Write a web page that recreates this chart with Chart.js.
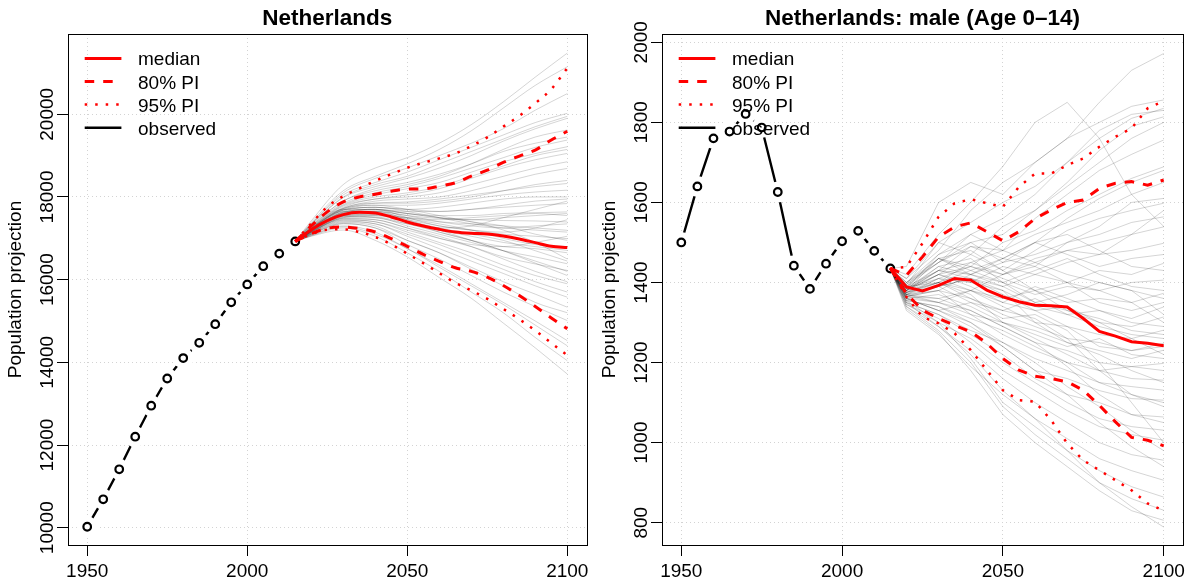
<!DOCTYPE html>
<html>
<head>
<meta charset="utf-8">
<title>Netherlands population projection</title>
<script src="https://cdn.jsdelivr.net/npm/chart.js@4.4.1/dist/chart.umd.min.js"></script>
<style>
    html, body { margin: 0; padding: 0; background: #fff; }
    #wrap { position: relative; width: 1194px; height: 583px; }
    canvas { position: absolute; top: 0; }
    #totalChart { left: 0; }
    #maleChart { left: 597px; }
</style>
</head>
<body>
<div id="wrap">
    <canvas id="totalChart" width="597" height="583"></canvas>
    <canvas id="maleChart" width="597" height="583"></canvas>
</div>
<script>
const obsYears = [1950, 1955, 1960, 1965, 1970, 1975, 1980, 1985, 1990, 1995, 2000, 2005, 2010, 2015];
const projYears = [2015, 2020, 2025, 2030, 2035, 2040, 2045, 2050, 2055, 2060, 2065, 2070, 2075, 2080, 2085, 2090, 2095, 2100];
const trajYears = [2015, 2020, 2030, 2040, 2050, 2060, 2070, 2080, 2090, 2100];
const xTicks = [1950, 2000, 2050, 2100];
const legendLabels = ['median', '80% PI', '95% PI', 'observed'];

// Netherlands, total
const totalTicks = [10000, 12000, 14000, 16000, 18000, 20000];
const totalObserved = [10024, 10687, 11413, 12201, 12951, 13609, 14103, 14473, 14923, 15453, 15885, 16326, 16630, 16925];
const totalMedian = [16925, 17210, 17428, 17574, 17630, 17614, 17517, 17396, 17299, 17218, 17153, 17121, 17105, 17056, 16984, 16895, 16806, 16780];
const totalUpper80 = [16925, 17299, 17639, 17881, 18003, 18067, 18140, 18189, 18197, 18261, 18342, 18504, 18650, 18835, 18989, 19135, 19377, 19590];
const totalLower80 = [16925, 17113, 17242, 17275, 17234, 17153, 16992, 16806, 16612, 16442, 16288, 16199, 16062, 15860, 15617, 15350, 15075, 14815];
const totalUpper95 = [16925, 17356, 17760, 18019, 18205, 18391, 18552, 18706, 18827, 18933, 19054, 19232, 19442, 19701, 19960, 20267, 20607, 21120];
const totalLower95 = [16925, 17097, 17210, 17218, 17153, 17032, 16854, 16628, 16401, 16159, 15924, 15738, 15536, 15293, 15043, 14768, 14468, 14170];
const totalTrajectories = [
    [16925, 17420, 18300, 18700, 18950, 19300, 19750, 20300, 20900, 21480],
    [16925, 17380, 18150, 18500, 18800, 19150, 19600, 20150, 20700, 21150],
    [16925, 17350, 18100, 18450, 18700, 19000, 19300, 19650, 20100, 20500],
    [16925, 17350, 18050, 18350, 18600, 18900, 19200, 19500, 19800, 20024],
    [16925, 17320, 18000, 18300, 18500, 18800, 19100, 19400, 19700, 19950],
    [16925, 17330, 17980, 18250, 18450, 18700, 19000, 19350, 19650, 19903],
    [16925, 17300, 17900, 18150, 18300, 18500, 18800, 19150, 19450, 19620],
    [16925, 17290, 17900, 18200, 18350, 18550, 18800, 19100, 19300, 19450],
    [16925, 17280, 17850, 18100, 18250, 18450, 18700, 18950, 19200, 19377],
    [16925, 17270, 17820, 18050, 18200, 18350, 18600, 18850, 19050, 19216],
    [16925, 17260, 17800, 18000, 18100, 18250, 18500, 18750, 19000, 19150],
    [16925, 17250, 17780, 17950, 18050, 18200, 18450, 18700, 18900, 19054],
    [16925, 17240, 17750, 17950, 18000, 18100, 18300, 18500, 18700, 18852],
    [16925, 17230, 17720, 17900, 17950, 18000, 18150, 18350, 18550, 18690],
    [16925, 17230, 17730, 17850, 17850, 17900, 18000, 18150, 18300, 18400],
    [16925, 17220, 17700, 17850, 17880, 17950, 18050, 18150, 18250, 18326],
    [16925, 17210, 17680, 17800, 17800, 17850, 17950, 18050, 18120, 18164],
    [16925, 17200, 17650, 17750, 17700, 17750, 17850, 17950, 18000, 18002],
    [16925, 17210, 17680, 17750, 17700, 17650, 17700, 17800, 17900, 17950],
    [16925, 17200, 17620, 17700, 17650, 17650, 17700, 17750, 17800, 17841],
    [16925, 17190, 17600, 17680, 17600, 17550, 17550, 17600, 17620, 17638],
    [16925, 17200, 17640, 17700, 17600, 17500, 17450, 17500, 17550, 17600],
    [16925, 17180, 17580, 17650, 17550, 17480, 17450, 17430, 17420, 17396],
    [16925, 17190, 17610, 17650, 17550, 17400, 17300, 17250, 17300, 17350],
    [16925, 17170, 17560, 17620, 17500, 17400, 17350, 17300, 17250, 17194],
    [16925, 17240, 17690, 17750, 17650, 17500, 17350, 17250, 17200, 17150],
    [16925, 17160, 17540, 17580, 17450, 17300, 17200, 17100, 17050, 16992],
    [16925, 17180, 17580, 17600, 17480, 17350, 17200, 17000, 16850, 16800],
    [16925, 17150, 17520, 17550, 17400, 17200, 17050, 16900, 16800, 16709],
    [16925, 17170, 17560, 17580, 17420, 17250, 17100, 16950, 16700, 16450],
    [16925, 17140, 17500, 17500, 17300, 17100, 16900, 16700, 16550, 16385],
    [16925, 17130, 17470, 17450, 17250, 17000, 16800, 16550, 16380, 16223],
    [16925, 17160, 17530, 17520, 17350, 17150, 16950, 16700, 16450, 16200],
    [16925, 17140, 17480, 17450, 17250, 17050, 16800, 16500, 16200, 15950],
    [16925, 17120, 17440, 17400, 17150, 16900, 16650, 16350, 16100, 15900],
    [16925, 17120, 17420, 17350, 17100, 16850, 16550, 16250, 15950, 15700],
    [16925, 17110, 17400, 17350, 17050, 16750, 16450, 16150, 15850, 15576],
    [16925, 17100, 17380, 17300, 16950, 16650, 16300, 15950, 15650, 15334],
    [16925, 17100, 17360, 17250, 16950, 16650, 16250, 15850, 15450, 15200],
    [16925, 17090, 17350, 17250, 16850, 16500, 16100, 15700, 15350, 15010],
    [16925, 17080, 17300, 17150, 16750, 16350, 15900, 15450, 15000, 14525],
    [16925, 17070, 17280, 17100, 16750, 16300, 15850, 15400, 14900, 14400],
    [16925, 17060, 17250, 17050, 16650, 16200, 15700, 15200, 14600, 14040],
    [16925, 17050, 17200, 16950, 16550, 16050, 15550, 14950, 14350, 13717],
    [16925, 17250, 17700, 17700, 17500, 17300, 17200, 17150, 17250, 17450],
    [16925, 17200, 17550, 17500, 17350, 17250, 17300, 17500, 17700, 17900],
    [16925, 17180, 17600, 17650, 17450, 17200, 16950, 16700, 16400, 16100],
    [16925, 17220, 17650, 17600, 17400, 17150, 16950, 16800, 16750, 16650],
    [16925, 17160, 17500, 17550, 17500, 17450, 17500, 17550, 17600, 17550],
    [16925, 17240, 17720, 17800, 17700, 17550, 17400, 17300, 17100, 16950],
    [16925, 17190, 17630, 17700, 17600, 17500, 17400, 17200, 16900, 16500],
    [16925, 17150, 17450, 17400, 17200, 17000, 16850, 16800, 16900, 17050]
];

// Netherlands, male age 0-14
const maleTicks = [800, 1000, 1200, 1400, 1600, 1800, 2000];
const maleObserved = [1500, 1640, 1760, 1777, 1821, 1787, 1626, 1442, 1384, 1447, 1503, 1529, 1479, 1435];
const maleMedian = [1435, 1389, 1379, 1393, 1410, 1406, 1381, 1364, 1352, 1343, 1342, 1339, 1310, 1278, 1266, 1252, 1248, 1242];
const maleUpper80 = [1435, 1418, 1464, 1514, 1539, 1549, 1527, 1504, 1527, 1560, 1581, 1600, 1606, 1635, 1648, 1652, 1643, 1656];
const maleLower80 = [1435, 1372, 1331, 1310, 1293, 1277, 1248, 1210, 1181, 1166, 1160, 1152, 1131, 1093, 1052, 1013, 1006, 992];
const maleUpper95 = [1435, 1439, 1498, 1564, 1598, 1608, 1598, 1589, 1639, 1672, 1672, 1693, 1710, 1739, 1764, 1785, 1835, 1853];
const maleLower95 = [1435, 1364, 1314, 1298, 1273, 1231, 1181, 1131, 1106, 1102, 1056, 998, 956, 931, 906, 881, 848, 830];
const maleTrajectories = [
    [1435, 1440, 1600, 1650, 1620, 1700, 1760, 1850, 1930, 1972],
    [1435, 1420, 1520, 1600, 1690, 1800, 1850, 1760, 1620, 1540],
    [1435, 1410, 1480, 1580, 1650, 1700, 1760, 1800, 1840, 1856],
    [1435, 1410, 1500, 1550, 1600, 1640, 1700, 1780, 1820, 1830],
    [1435, 1400, 1450, 1520, 1560, 1620, 1700, 1760, 1810, 1835],
    [1435, 1395, 1500, 1470, 1540, 1580, 1650, 1730, 1790, 1814],
    [1435, 1400, 1470, 1500, 1520, 1580, 1640, 1700, 1760, 1800],
    [1435, 1390, 1430, 1490, 1480, 1560, 1620, 1680, 1720, 1756],
    [1435, 1400, 1460, 1440, 1500, 1530, 1580, 1620, 1660, 1689],
    [1435, 1395, 1450, 1490, 1460, 1500, 1560, 1610, 1650, 1680],
    [1435, 1385, 1430, 1450, 1480, 1520, 1550, 1580, 1620, 1650],
    [1435, 1390, 1450, 1500, 1450, 1470, 1500, 1540, 1600, 1610],
    [1435, 1380, 1420, 1470, 1430, 1480, 1530, 1560, 1580, 1598],
    [1435, 1380, 1420, 1440, 1420, 1450, 1480, 1470, 1520, 1580],
    [1435, 1385, 1440, 1420, 1460, 1440, 1500, 1520, 1550, 1564],
    [1435, 1390, 1400, 1450, 1420, 1460, 1480, 1500, 1520, 1539],
    [1435, 1375, 1410, 1400, 1440, 1420, 1450, 1470, 1480, 1498],
    [1435, 1375, 1400, 1430, 1460, 1500, 1470, 1440, 1460, 1470],
    [1435, 1380, 1430, 1410, 1390, 1420, 1400, 1430, 1420, 1448],
    [1435, 1380, 1460, 1420, 1450, 1500, 1520, 1480, 1440, 1430],
    [1435, 1370, 1380, 1420, 1400, 1370, 1390, 1380, 1400, 1406],
    [1435, 1395, 1460, 1430, 1400, 1430, 1460, 1420, 1390, 1380],
    [1435, 1380, 1400, 1380, 1360, 1380, 1350, 1360, 1350, 1373],
    [1435, 1380, 1440, 1460, 1400, 1350, 1370, 1400, 1380, 1360],
    [1435, 1370, 1410, 1440, 1410, 1380, 1400, 1350, 1330, 1350],
    [1435, 1365, 1390, 1410, 1380, 1340, 1320, 1330, 1310, 1339],
    [1435, 1385, 1420, 1390, 1350, 1330, 1340, 1300, 1290, 1314],
    [1435, 1385, 1470, 1520, 1480, 1450, 1420, 1400, 1380, 1320],
    [1435, 1365, 1350, 1380, 1420, 1440, 1400, 1380, 1350, 1300],
    [1435, 1385, 1410, 1380, 1350, 1390, 1360, 1330, 1300, 1290],
    [1435, 1370, 1360, 1380, 1340, 1300, 1290, 1270, 1260, 1281],
    [1435, 1380, 1430, 1420, 1390, 1350, 1330, 1310, 1280, 1270],
    [1435, 1365, 1380, 1360, 1330, 1360, 1320, 1290, 1270, 1260],
    [1435, 1375, 1400, 1360, 1320, 1290, 1260, 1250, 1230, 1248],
    [1435, 1375, 1390, 1410, 1370, 1330, 1290, 1240, 1230, 1240],
    [1435, 1360, 1370, 1340, 1300, 1280, 1250, 1230, 1210, 1231],
    [1435, 1390, 1460, 1480, 1430, 1380, 1330, 1300, 1260, 1220],
    [1435, 1360, 1350, 1320, 1300, 1270, 1240, 1260, 1220, 1210],
    [1435, 1370, 1350, 1330, 1290, 1250, 1230, 1200, 1190, 1198],
    [1435, 1370, 1400, 1370, 1300, 1260, 1220, 1180, 1190, 1180],
    [1435, 1365, 1380, 1320, 1270, 1230, 1200, 1180, 1160, 1156],
    [1435, 1375, 1420, 1400, 1380, 1300, 1250, 1220, 1180, 1150],
    [1435, 1355, 1340, 1300, 1250, 1210, 1180, 1150, 1140, 1131],
    [1435, 1360, 1330, 1290, 1240, 1180, 1160, 1130, 1110, 1106],
    [1435, 1360, 1330, 1350, 1330, 1310, 1260, 1180, 1120, 1100],
    [1435, 1355, 1340, 1310, 1280, 1240, 1200, 1150, 1120, 1090],
    [1435, 1350, 1320, 1270, 1220, 1160, 1120, 1100, 1070, 1064],
    [1435, 1365, 1360, 1330, 1290, 1250, 1190, 1120, 1070, 1050],
    [1435, 1355, 1300, 1260, 1200, 1150, 1100, 1060, 1040, 1031],
    [1435, 1345, 1310, 1250, 1180, 1130, 1080, 1040, 1020, 1006],
    [1435, 1370, 1390, 1350, 1310, 1320, 1280, 1200, 1100, 1000],
    [1435, 1350, 1320, 1280, 1250, 1200, 1140, 1090, 1030, 980],
    [1435, 1350, 1290, 1230, 1160, 1100, 1050, 1000, 970, 956],
    [1435, 1360, 1330, 1300, 1240, 1180, 1120, 1050, 990, 940],
    [1435, 1340, 1290, 1220, 1130, 1060, 1010, 960, 930, 906],
    [1435, 1345, 1300, 1210, 1100, 1040, 980, 930, 890, 864],
    [1435, 1340, 1280, 1200, 1090, 1020, 960, 900, 860, 831],
    [1435, 1335, 1275, 1180, 1070, 1000, 940, 880, 830, 806],
    [1435, 1330, 1270, 1190, 1120, 1060, 980, 900, 840, 789]
];

const FONT = '"Liberation Sans", Arial, Helvetica, sans-serif';
const RED = '#ff0000';
const DASH = [9.5, 9];
const DOT = [2.5, 8];
const legendStyles = [
    { color: RED, width: 3, dash: [] },
    { color: RED, width: 3, dash: DASH },
    { color: RED, width: 2.5, dash: DOT },
    { color: '#000', width: 2.6, dash: [] }
];

function series(xs, ys) {
    return xs.map((x, i) => ({ x: x, y: ys[i] }));
}

// R style frame, tick labels, titles and legend
const rDecor = {
    id: 'rDecor',
    afterDraw(chart, args, opts) {
        const ctx = chart.ctx;
        const a = chart.chartArea;
        const xs = chart.scales.x;
        const ys = chart.scales.y;
        ctx.save();
        ctx.setLineDash([]);
        ctx.strokeStyle = '#000';
        ctx.lineWidth = 1;
        ctx.strokeRect(Math.round(a.left) + 0.5, Math.round(a.top) + 0.5,
            Math.round(a.right - a.left), Math.round(a.bottom - a.top));

        ctx.fillStyle = '#000';
        ctx.font = '19px ' + FONT;
        ctx.textAlign = 'center';
        ctx.textBaseline = 'alphabetic';
        xs.ticks.forEach(t => ctx.fillText(String(t.value), xs.getPixelForValue(t.value), a.bottom + 32.3));
        ys.ticks.forEach(t => {
            ctx.save();
            ctx.translate(a.left - 15, ys.getPixelForValue(t.value));
            ctx.rotate(-Math.PI / 2);
            ctx.fillText(String(t.value), 0, 0);
            ctx.restore();
        });
        ctx.save();
        ctx.translate(a.left - 47.3, (a.top + a.bottom) / 2);
        ctx.rotate(-Math.PI / 2);
        ctx.fillText(opts.yTitle, 0, 0);
        ctx.restore();

        ctx.font = 'bold 22.5px ' + FONT;
        ctx.fillText(opts.title, (a.left + a.right) / 2, 25);

        ctx.font = '19px ' + FONT;
        ctx.textAlign = 'left';
        legendLabels.forEach((label, i) => {
            const st = legendStyles[i];
            const y = a.top + 24.4 + i * 23.1;
            ctx.strokeStyle = st.color;
            ctx.lineWidth = st.width;
            ctx.lineCap = 'butt';
            ctx.setLineDash(st.dash);
            ctx.beginPath();
            ctx.moveTo(a.left + 16.7, y);
            ctx.lineTo(a.left + 53.4, y);
            ctx.stroke();
            ctx.setLineDash([]);
            ctx.fillText(label, a.left + 70, y + 7);
        });
        ctx.restore();
    }
};

function makeChart(canvasId, cfg) {
    const curve = cfg.smooth ? 'monotone' : 'default';
    const datasets = [];
    datasets.push({ data: series(obsYears, cfg.observed), borderColor: '#000', borderWidth: 2.4,
        pointRadius: 0, tension: 0, order: 4 });
    // white halo so the line stops short of each circle, like R type="b"
    datasets.push({ data: series(obsYears, cfg.observed), showLine: false, pointRadius: 10.5,
        pointBorderWidth: 0, pointBorderColor: '#fff', pointBackgroundColor: '#fff', order: 3 });
    datasets.push({ data: series(obsYears, cfg.observed), showLine: false, pointRadius: 3.8,
        pointBorderWidth: 2.2, pointBorderColor: '#000', pointBackgroundColor: 'rgba(0,0,0,0)', order: 2 });
    cfg.trajectories.forEach(tr => {
        datasets.push({ data: series(trajYears, tr), borderColor: 'rgba(0,0,0,0.17)', borderWidth: 1,
            pointRadius: 0, tension: cfg.smooth ? 0.4 : 0, cubicInterpolationMode: curve, order: 1 });
    });
    const red = [
        [cfg.upper95, DOT, 2.5], [cfg.lower95, DOT, 2.5],
        [cfg.upper80, DASH, 3], [cfg.lower80, DASH, 3],
        [cfg.median, [], 3]
    ];
    red.forEach(([vals, dash, w]) => {
        datasets.push({ data: series(projYears, vals), borderColor: RED, borderWidth: w, borderDash: dash,
            borderCapStyle: 'butt', pointRadius: 0, tension: cfg.smooth ? 0.4 : 0,
            cubicInterpolationMode: curve, order: 0 });
    });

    const gridCommon = { color: '#d3d3d3', lineWidth: 1, tickColor: '#000', tickLength: 11,
        tickWidth: 1, tickBorderDash: [] };

    return new Chart(document.getElementById(canvasId), {
        type: 'line',
        data: { datasets: datasets },
        plugins: [rDecor],
        options: {
            responsive: false,
            animation: false,
            events: [],
            layout: { padding: { left: 0, top: 34, right: cfg.padRight, bottom: 0 } },
            plugins: {
                legend: { display: false },
                tooltip: { enabled: false },
                rDecor: { title: cfg.title, yTitle: 'Population projection' }
            },
            scales: {
                x: {
                    type: 'linear',
                    position: 'bottom',
                    min: 1944,
                    max: 2106,
                    afterBuildTicks: s => { s.ticks = xTicks.map(v => ({ value: v })); },
                    afterFit: s => { s.height = 38; },
                    ticks: { display: false },
                    grid: gridCommon,
                    border: { display: false, dash: [1, 3] }
                },
                y: {
                    type: 'linear',
                    position: 'left',
                    min: cfg.yMin,
                    max: cfg.yMax,
                    afterBuildTicks: s => { s.ticks = cfg.yTicks.map(v => ({ value: v })); },
                    afterFit: s => { s.width = cfg.axisWidth; },
                    ticks: { display: false },
                    grid: gridCommon,
                    border: { display: false, dash: [1, 3] }
                }
            }
        }
    });
}

makeChart('totalChart', {
    title: 'Netherlands',
    observed: totalObserved,
    median: totalMedian,
    upper80: totalUpper80, lower80: totalLower80,
    upper95: totalUpper95, lower95: totalLower95,
    trajectories: totalTrajectories,
    yTicks: totalTicks,
    yMin: 9582, yMax: 21942,
    axisWidth: 68, padRight: 8,
    smooth: true
});

makeChart('maleChart', {
    title: 'Netherlands: male (Age 0\u201314)',
    observed: maleObserved,
    median: maleMedian,
    upper80: maleUpper80, lower80: maleLower80,
    upper95: maleUpper95, lower95: maleLower95,
    trajectories: maleTrajectories,
    yTicks: maleTicks,
    yMin: 744.3, yMax: 2020.7,
    axisWidth: 65, padRight: 11,
    smooth: false
});
</script>
</body>
</html>
